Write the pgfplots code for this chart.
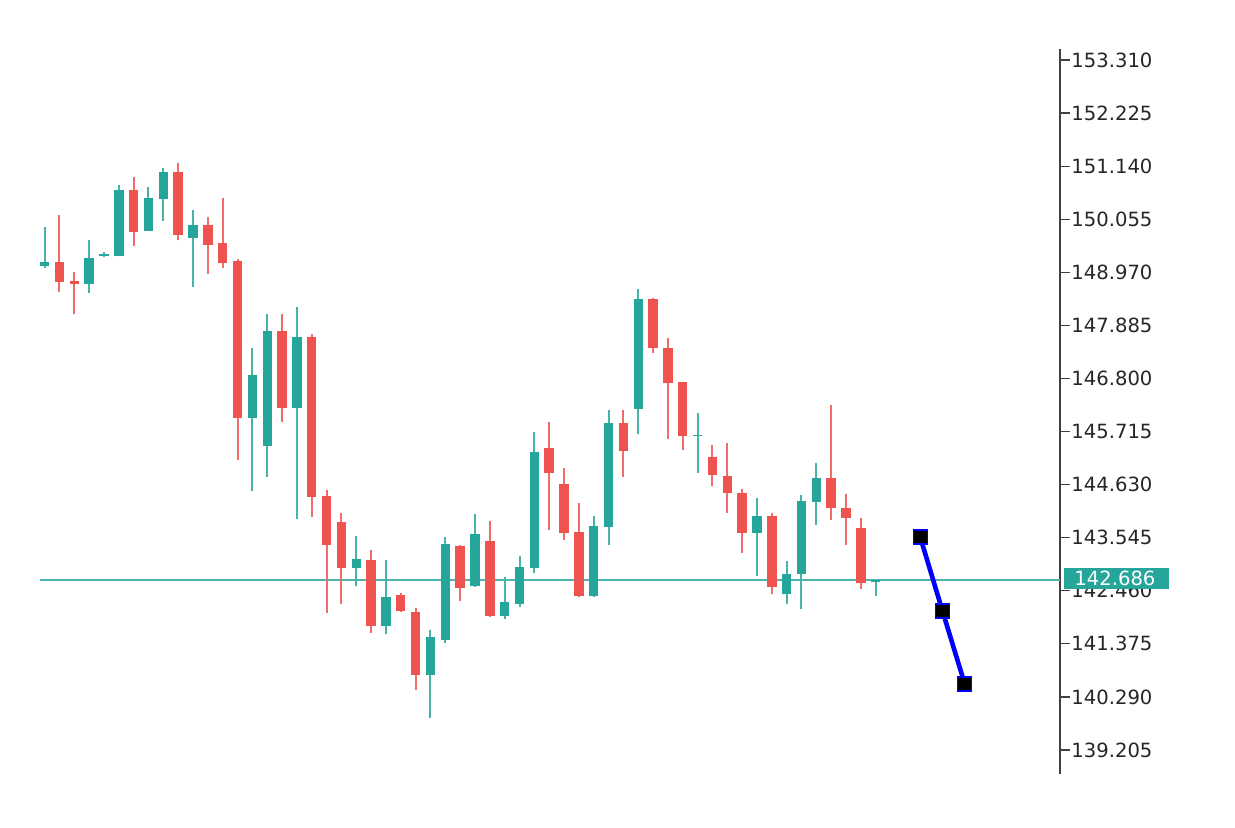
\documentclass[border=0pt]{standalone}
\usepackage{fontspec}
\setmainfont{DejaVu Sans}
\usepackage{pgfplots}
\usepackage{pgfplotstable}
\pgfplotsset{compat=1.18}
\definecolor{bull}{HTML}{26A69A}
\definecolor{bear}{HTML}{EF5350}
\definecolor{priceline}{HTML}{4DB6AC}
\definecolor{axisgray}{HTML}{404040}

% bar index, open, high, low, close
\pgfplotstableread{
x o h l c
1 149.099 149.896 149.058 149.181
4 148.731 149.630 148.547 149.263
5 149.303 149.385 149.283 149.344
6 149.303 150.755 149.303 150.653
8 149.814 150.714 149.814 150.489
9 150.469 151.102 150.019 151.021
11 149.671 150.244 148.670 149.937
15 145.992 147.423 144.500 146.871
16 145.419 148.118 144.786 147.770
18 146.196 148.261 143.927 147.648
22 142.925 143.580 142.557 143.109
24 141.740 143.089 141.576 142.333
27 140.738 141.658 139.859 141.515
28 141.454 143.559 141.392 143.416
30 142.557 144.029 142.537 143.621
32 141.944 142.741 141.883 142.230
33 142.189 143.171 142.128 142.946
34 142.925 145.706 142.823 145.297
38 142.353 143.988 142.333 143.784
39 143.764 146.155 143.396 145.890
41 146.176 148.629 145.665 148.424
45 145.624 146.094 144.867 145.644
49 143.641 144.356 142.762 143.988
51 142.394 143.069 142.189 142.803
52 142.803 144.418 142.087 144.295
53 144.275 145.072 143.804 144.765
57 142.645 142.701 142.353 142.686
}\upbars

\pgfplotstableread{
x o h l c
2 149.181 150.142 148.567 148.772
3 148.792 148.976 148.118 148.731
7 150.653 150.918 149.508 149.794
10 151.021 151.205 149.630 149.733
12 149.937 150.101 148.935 149.528
13 149.569 150.489 149.058 149.160
14 149.201 149.242 145.133 145.992
17 147.770 148.118 145.910 146.196
19 147.648 147.709 143.968 144.377
20 144.397 144.520 142.005 143.396
21 143.866 144.050 142.189 142.925
23 143.089 143.293 141.597 141.740
25 142.373 142.414 142.026 142.046
26 142.026 142.108 140.431 140.738
29 143.375 143.396 142.251 142.517
31 143.477 143.886 141.924 141.944
35 145.379 145.910 143.702 144.867
36 144.643 144.970 143.498 143.641
37 143.661 144.254 142.333 142.353
40 145.890 146.155 144.786 145.317
42 148.424 148.445 147.321 147.423
43 147.423 147.627 145.563 146.707
44 146.728 146.728 145.338 145.624
46 145.195 145.440 144.602 144.827
47 144.806 145.481 144.050 144.459
48 144.459 144.540 143.232 143.641
50 143.988 144.050 142.394 142.537
54 144.765 146.258 143.907 144.152
55 144.152 144.438 143.396 143.948
56 143.743 143.948 142.496 142.619
}\downbars

\begin{document}
\begin{tikzpicture}
  \path[use as bounding box, fill=white] (-20pt,-26.5pt) rectangle (597.5pt,387pt);
  \begin{axis}[
    at={(0pt,0pt)}, anchor=south west,
    scale only axis,
    width=510pt, height=362.5pt,
    xmin=0.69, xmax=69.42,
    ymin=138.714, ymax=153.535,
    axis x line=none,
    axis y line*=right,
    y axis line style={draw=axisgray, line width=1pt},
    tick align=outside,
    major tick length=5pt,
    tick style={draw=axisgray, line width=0.6pt},
    ytick={153.310,152.225,151.140,150.055,148.970,147.885,146.800,145.715,144.630,143.545,142.460,141.375,140.290,139.205},
    yticklabels={153.310,152.225,151.140,150.055,148.970,147.885,146.800,145.715,144.630,143.545,142.460,141.375,140.290,139.205},
    yticklabel style={font=\fontsize{9.8}{11}\selectfont, text=black!85, inner sep=0pt, xshift=0.5pt},
    wick/.style={draw=none, mark=none, forget plot,
      error bars/.cd, y dir=plus, y explicit, error mark=none,
      error bar style={draw=#1, line width=1pt}},
    body/.style={draw=none, mark=none, forget plot,
      error bars/.cd, y dir=plus, y explicit, error mark=none,
      error bar style={draw=#1, line width=4.7pt}},
  ]
    % current price line
    \addplot[draw=priceline, line width=0.8pt, mark=none, forget plot]
      coordinates {(0.69,142.686) (69.42,142.686)};

    % wicks
    \addplot[wick=bull!85] table[x=x, y=l, y error expr=\thisrow{h}-\thisrow{l}] {\upbars};
    \addplot[wick=bear!85] table[x=x, y=l, y error expr=\thisrow{h}-\thisrow{l}] {\downbars};
    % bodies
    \addplot[body=bull] table[x=x, y=o, y error expr=\thisrow{c}-\thisrow{o}] {\upbars};
    \addplot[body=bear] table[x=x, y=c, y error expr=\thisrow{o}-\thisrow{c}] {\downbars};

    % forecast
    \addplot[blue, line width=2.3pt, mark=square*, mark size=3.5pt,
      mark options={fill=black, draw=blue, line width=0.6pt}]
      coordinates {(60,143.559) (61.5,142.047) (63,140.554)};

    \coordinate (cp) at (axis cs:69.42,142.686);
  \end{axis}
  \node[fill=bull, text=white, anchor=west, inner xsep=5pt, inner ysep=1.7pt,
    text height=7.1pt, text depth=0pt, text width=42.5pt, align=left,
    font=\fontsize{9.8}{11}\selectfont]
    at ([xshift=2pt, yshift=0.7pt]cp) {142.686};
\end{tikzpicture}
\end{document}
